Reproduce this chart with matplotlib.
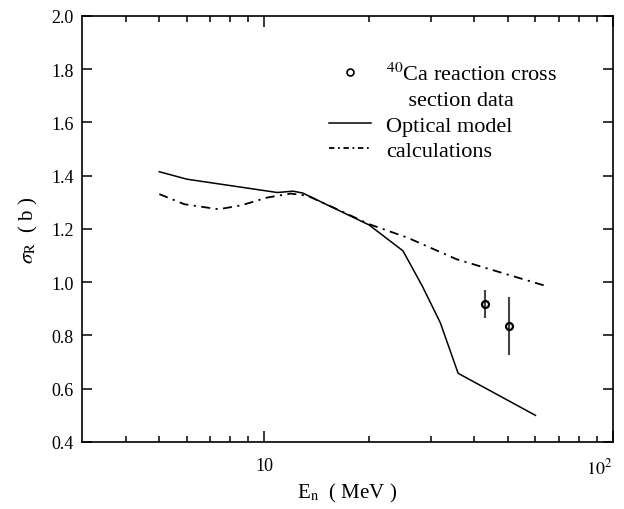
import numpy as np
import matplotlib
matplotlib.use('Agg')
import matplotlib.pyplot as plt
from matplotlib.lines import Line2D
from matplotlib.ticker import FixedLocator, FixedFormatter, NullFormatter

plt.rcParams['font.family'] = ['Liberation Serif', 'DejaVu Serif']
plt.rcParams['mathtext.fontset'] = 'stix'

# optical model, solid curve
solid_e = [5.0, 6.0, 10.9, 12.1, 12.9, 15.7, 20.0, 25.0, 28.4, 32.0, 36.0, 60.0]
solid_sig = [1.415, 1.387, 1.337, 1.342, 1.335, 1.281, 1.215, 1.118, 0.986, 0.848, 0.658, 0.500]

# optical model, dash-dot curve
dd_e = [5.0, 5.9, 7.4, 8.6, 10.2, 11.9, 13.3, 16.2, 20.0, 25.7, 35.7, 49.6, 65.0]
dd_sig = [1.331, 1.293, 1.274, 1.289, 1.318, 1.333, 1.325, 1.274, 1.218, 1.168, 1.086, 1.030, 0.984]

# 40Ca reaction cross section data
data_e = [43.0, 50.5]
data_sig = [0.917, 0.836]
data_err = [0.052, 0.110]

y_ticks = [0.4, 0.6, 0.8, 1.0, 1.2, 1.4, 1.6, 1.8, 2.0]
x_major = [10, 100]
x_major_labels = ['10', '$10^2$']
x_minor = [4, 5, 6, 7, 8, 9, 20, 30, 40, 50, 60, 70, 80, 90]

fig = plt.figure(figsize=(6.24, 5.10), dpi=100)
ax = fig.add_axes([0.1314, 0.1314, 0.8506, 0.8353])

ax.plot(solid_e, solid_sig, color='black', lw=1.1)
ax.plot(dd_e, dd_sig, color='black', lw=1.3, linestyle=(0, (5, 3, 1.2, 3)))
ax.errorbar(data_e, data_sig, yerr=data_err, fmt='o', ms=5, mfc='none',
            mec='black', mew=1.6, ecolor='#444444', elinewidth=1.5, capsize=0)

ax.set_xscale('log')
ax.set_xlim(3, 100)
ax.set_ylim(0.4, 2.0)

ax.xaxis.set_major_locator(FixedLocator(x_major))
ax.xaxis.set_major_formatter(FixedFormatter(x_major_labels))
ax.xaxis.set_minor_locator(FixedLocator(x_minor))
ax.xaxis.set_minor_formatter(NullFormatter())
ax.yaxis.set_major_locator(FixedLocator(y_ticks))
ax.yaxis.set_major_formatter(FixedFormatter(['%.1f' % v for v in y_ticks]))

ax.tick_params(which='both', direction='in', top=True, right=True, labelsize=13, width=1.1)
ax.tick_params(which='major', length=8)
ax.tick_params(which='minor', length=4)
ax.tick_params(axis='x', which='major', pad=11)
ax.tick_params(axis='y', which='major', length=7, pad=6)
for s in ax.spines.values():
    s.set_linewidth(1.2)

# keep 10^2 inside the figure edge
fig.canvas.draw()
ax.get_xticklabels()[-1].set_horizontalalignment('right')

ax.set_xlabel(r'E$_{\rm n}$  ( MeV )', fontsize=15, labelpad=3)
ax.set_ylabel(r'$\sigma_{\rm R}$  ( b )', fontsize=15, labelpad=8)

handles = [
    Line2D([], [], marker='o', ms=5, mfc='none', mec='black', mew=1.2, linestyle='none'),
    Line2D([], [], linestyle='none'),
    Line2D([], [], color='black', lw=1.1),
    Line2D([], [], color='black', lw=1.3, linestyle=(0, (3, 2, 1, 2))),
]
labels = ['$^{40}$Ca reaction cross', '    section data', 'Optical model', 'calculations']
ax.legend(handles, labels, loc='upper left', bbox_to_anchor=(0.427, 0.938), frameon=False,
          fontsize=16, handlelength=1.9, handletextpad=0.7, labelspacing=0.22)

fig.savefig('out.png', dpi=100)
